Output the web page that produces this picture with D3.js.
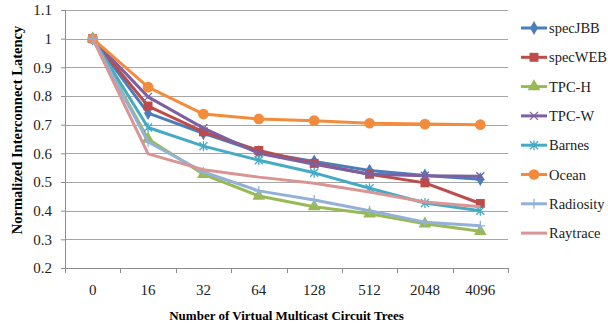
<!DOCTYPE html>
<html>
<head>
<meta charset="utf-8">
<script src="https://cdn.jsdelivr.net/npm/d3@7"></script>
<style>
  body { margin: 0; background: #fff; }
  svg text { font-family: "Liberation Serif", "Times New Roman", serif; }
</style>
</head>
<body>
<svg class="chart"></svg>
<script>
// categories on the x axis
var trees = ["0", "16", "32", "64", "128", "512", "2048", "4096"];
var yTicks = [0.2, 0.3, 0.4, 0.5, 0.6, 0.7, 0.8, 0.9, 1, 1.1];

var seriesNames = ["specJBB", "specWEB", "TPC-H", "TPC-W", "Barnes", "Ocean", "Radiosity", "Raytrace"];
var specJBB   = [1, 0.74,  0.67,  0.605, 0.572, 0.54,  0.523, 0.51];
var specWEB   = [1, 0.765, 0.675, 0.61,  0.565, 0.527, 0.497, 0.425];
var tpcH      = [1, 0.65,  0.527, 0.451, 0.414, 0.389, 0.354, 0.328];
var tpcW      = [1, 0.797, 0.688, 0.6,   0.562, 0.527, 0.522, 0.52];
var barnes    = [1, 0.69,  0.625, 0.576, 0.532, 0.478, 0.427, 0.4];
var ocean     = [1, 0.831, 0.737, 0.72,  0.714, 0.705, 0.702, 0.7];
var radiosity = [1, 0.64,  0.535, 0.469, 0.437, 0.4,   0.36,  0.347];
var raytrace  = [1, 0.598, 0.543, 0.517, 0.496, 0.465, 0.43,  0.414];

var colors = ["#4A7EBB", "#BE4B48", "#98B954", "#7D60A0", "#46AAC5", "#F38B3C", "#93B1D6", "#D89593"];
var markers = ["diamond", "square", "triangle", "x", "star", "circle", "plus", "none"];

var series = [specJBB, specWEB, tpcH, tpcW, barnes, ocean, radiosity, raytrace].map(function(v, i) {
    return {name: seriesNames[i], values: v, color: colors[i], marker: markers[i]};
});

var W = 608, H = 328;
var margin = {top: 10, right: 100, bottom: 60, left: 65};
var width = W - margin.left - margin.right,
    height = H - margin.top - margin.bottom;

var svg = d3.select(".chart").attr("width", W).attr("height", H);
var g = svg.append("g").attr("transform", "translate(" + margin.left + "," + margin.top + ")");

var x = d3.scaleBand().domain(trees).range([0, width]);
var y = d3.scaleLinear().domain([0.2, 1.1]).range([height, 0]);

// gridlines
g.append("g").selectAll("line").data(yTicks.slice(1)).enter()
    .append("line")
    .attr("x1", 0).attr("x2", width)
    .attr("y1", function(d) { return Math.round(y(d)) + 0.5; })
    .attr("y2", function(d) { return Math.round(y(d)) + 0.5; })
    .attr("stroke", "#a6a6a6").attr("stroke-width", 1);

// y axis
var yAxis = g.append("g")
    .call(d3.axisLeft(y).tickValues(yTicks).tickSize(4).tickPadding(9).tickFormat(d3.format("")));
yAxis.select(".domain").attr("stroke", "#8c8c8c");
yAxis.selectAll(".tick line").attr("stroke", "#8c8c8c");
yAxis.selectAll("text").attr("font-size", 15).attr("fill", "#222");

// x axis with ticks at band edges
var xAxis = g.append("g").attr("transform", "translate(0," + height + ")")
    .call(d3.axisBottom(x).tickSize(0).tickPadding(16));
xAxis.select(".domain").attr("stroke", "#8c8c8c");
xAxis.selectAll("text").attr("font-size", 15).attr("fill", "#222");
xAxis.selectAll("line.edge").data(trees.concat([""])).enter()
    .append("line").attr("class", "edge")
    .attr("x1", function(d, i) { return Math.round(i * x.step()) + 0.5; })
    .attr("x2", function(d, i) { return Math.round(i * x.step()) + 0.5; })
    .attr("y1", 0).attr("y2", 5)
    .attr("stroke", "#8c8c8c");

var cx = function(d, i) { return x(trees[i]) + x.bandwidth() / 2; };

var line = d3.line()
    .x(function(d, i) { return cx(d, i); })
    .y(function(d) { return y(d); });

function drawMarker(sel, type, color) {
    var s;
    if (type === "diamond") {
        s = sel.append("path").attr("d", d3.symbol().type(d3.symbolDiamond).size(55)).attr("fill", color);
    } else if (type === "square") {
        s = sel.append("path").attr("d", d3.symbol().type(d3.symbolSquare).size(80)).attr("fill", color);
    } else if (type === "triangle") {
        s = sel.append("path").attr("d", d3.symbol().type(d3.symbolTriangle).size(70)).attr("fill", color);
    } else if (type === "circle") {
        s = sel.append("path").attr("d", d3.symbol().type(d3.symbolCircle).size(90)).attr("fill", color);
    } else if (type === "x") {
        s = sel.append("path").attr("d", "M-4,-4L4,4M-4,4L4,-4").attr("stroke", color).attr("stroke-width", 1.3).attr("fill", "none");
    } else if (type === "star") {
        s = sel.append("path").attr("d", "M-4,-4L4,4M-4,4L4,-4M0,-5L0,5").attr("stroke", color).attr("stroke-width", 1.3).attr("fill", "none");
    } else if (type === "plus") {
        s = sel.append("path").attr("d", "M-5,0L5,0M0,-5L0,5").attr("stroke", color).attr("stroke-width", 1.3).attr("fill", "none");
    }
    return s;
}

// lines and markers
var sg = g.selectAll("g.series").data(series).enter().append("g").attr("class", "series");
sg.append("path")
    .attr("d", function(d) { return line(d.values); })
    .attr("fill", "none")
    .attr("stroke", function(d) { return d.color; })
    .attr("stroke-width", 3)
    .attr("stroke-linejoin", "round");
sg.each(function(s) {
    d3.select(this).selectAll("g.pt").data(s.values).enter()
        .append("g").attr("class", "pt")
        .attr("transform", function(d, i) { return "translate(" + cx(d, i) + "," + y(d) + ")"; })
        .each(function() { drawMarker(d3.select(this), s.marker, s.color); });
});

// axis titles
svg.append("text")
    .attr("x", margin.left + width / 2).attr("y", 320)
    .attr("text-anchor", "middle").attr("font-size", 13).attr("font-weight", "bold")
    .text("Number of Virtual Multicast Circuit Trees");
svg.append("text")
    .attr("transform", "translate(22,130) rotate(-90)")
    .attr("text-anchor", "middle").attr("font-size", 14.5).attr("font-weight", "bold")
    .text("Normalized Interconnect Latency");

// legend
var leg = svg.append("g").attr("transform", "translate(521,28)");
var li = leg.selectAll("g").data(series).enter().append("g")
    .attr("transform", function(d, i) { return "translate(0," + (i * 29.3) + ")"; });
li.append("line").attr("x1", 0).attr("x2", 26).attr("y1", 0).attr("y2", 0)
    .attr("stroke", function(d) { return d.color; }).attr("stroke-width", 3);
li.each(function(s) {
    var m = d3.select(this).append("g").attr("transform", "translate(13,0)");
    drawMarker(m, s.marker, s.color);
});
li.append("text").attr("x", 28).attr("y", 5).attr("font-size", 14.5).attr("fill", "#222")
    .text(function(d) { return d.name; });
</script>
</body>
</html>
